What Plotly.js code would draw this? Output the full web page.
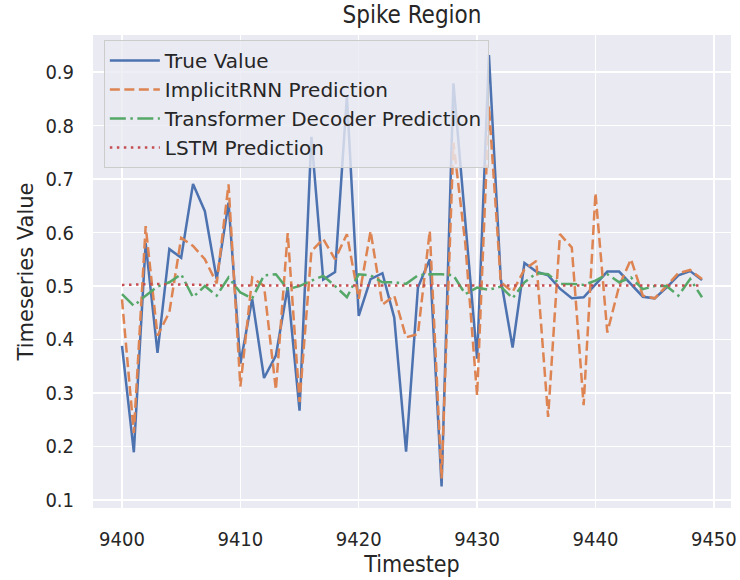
<!DOCTYPE html>
<html>
<head>
<meta charset="utf-8">
<script src="https://cdn.plot.ly/plotly-3.0.1.min.js"></script>
<style>html,body{margin:0;padding:0;background:#fff;}#chart{width:740px;height:580px;}</style>
</head>
<body>
<div id="chart"></div>
<script>
const timesteps = Array.from({length: 50}, (_, i) => 9400 + i);
const trueValue = [0.388, 0.189, 0.580, 0.375, 0.569, 0.553, 0.691, 0.640, 0.513, 0.656,
                   0.355, 0.476, 0.328, 0.370, 0.498, 0.267, 0.779, 0.512, 0.526, 0.855,
                   0.444, 0.513, 0.524, 0.441, 0.190, 0.497, 0.550, 0.125, 0.879, 0.620,
                   0.364, 0.932, 0.513, 0.385, 0.543, 0.527, 0.520, 0.495, 0.477, 0.479,
                   0.504, 0.527, 0.527, 0.504, 0.480, 0.477, 0.497, 0.520, 0.528, 0.511];
const implicitRNN = [0.475, 0.225, 0.612, 0.407, 0.451, 0.590, 0.575, 0.550, 0.505, 0.690,
                     0.312, 0.516, 0.500, 0.306, 0.599, 0.283, 0.565, 0.588, 0.550, 0.597,
                     0.476, 0.603, 0.465, 0.482, 0.404, 0.410, 0.603, 0.140, 0.768, 0.580,
                     0.295, 0.836, 0.507, 0.489, 0.531, 0.547, 0.255, 0.597, 0.572, 0.277,
                     0.674, 0.413, 0.500, 0.550, 0.482, 0.477, 0.500, 0.524, 0.530, 0.513];
const transformerDecoder = [0.485, 0.463, 0.482, 0.499, 0.507, 0.522, 0.479, 0.500, 0.482, 0.516,
                            0.488, 0.477, 0.520, 0.522, 0.494, 0.500, 0.510, 0.519, 0.500, 0.479,
                            0.522, 0.520, 0.507, 0.507, 0.504, 0.520, 0.522, 0.522, 0.520, 0.485,
                            0.497, 0.493, 0.499, 0.477, 0.507, 0.524, 0.522, 0.504, 0.504, 0.502,
                            0.510, 0.522, 0.507, 0.516, 0.494, 0.500, 0.500, 0.482, 0.513, 0.479];
const lstm = [0.502, 0.503, 0.504, 0.504, 0.503, 0.503, 0.502, 0.502, 0.501, 0.501,
              0.501, 0.500, 0.500, 0.500, 0.500, 0.500, 0.500, 0.500, 0.500, 0.500,
              0.500, 0.500, 0.500, 0.500, 0.500, 0.500, 0.500, 0.500, 0.500, 0.500,
              0.500, 0.500, 0.500, 0.500, 0.500, 0.500, 0.501, 0.501, 0.501, 0.501,
              0.501, 0.501, 0.501, 0.501, 0.501, 0.501, 0.501, 0.501, 0.501, 0.501];
const xTicks = [9400, 9410, 9420, 9430, 9440, 9450];
const yTicks = [0.1, 0.2, 0.3, 0.4, 0.5, 0.6, 0.7, 0.8, 0.9];

const cond = "'DejaVu Sans Condensed', 'DejaVu Sans', sans-serif";
const font = "'DejaVu Sans', sans-serif";
const txt = '#262626';
const traces = [
  {x: timesteps, y: trueValue, name: 'True Value', mode: 'lines', line: {color: '#4C72B0', width: 2.5, dash: 'solid'}},
  {x: timesteps, y: implicitRNN, name: 'ImplicitRNN Prediction', mode: 'lines', line: {color: '#DD8452', width: 2.5, dash: '10px,4.5px'}},
  {x: timesteps, y: transformerDecoder, name: 'Transformer Decoder Prediction', mode: 'lines', line: {color: '#55A868', width: 2.5, dash: '16px,4.5px,2.5px,4.5px'}},
  {x: timesteps, y: lstm, name: 'LSTM Prediction', mode: 'lines', line: {color: '#C44E52', width: 2.5, dash: '2.5px,4.5px'}}
];
const layout = {
  width: 740, height: 580,
  margin: {l: 93, r: 9, t: 35, b: 72},
  paper_bgcolor: '#ffffff',
  plot_bgcolor: '#EAEAF2',
  font: {family: cond, color: txt, size: 20},
  title: {text: 'Spike Region', font: {family: cond, size: 24, color: txt}, x: 0.5, xref: 'paper', xanchor: 'center', y: 0.974, yref: 'container', yanchor: 'middle'},
  xaxis: {
    range: [9397.55, 9451.45], tickvals: xTicks, ticktext: xTicks.map(String),
    showgrid: true, gridcolor: '#ffffff', gridwidth: 1.5, zeroline: false, showline: false,
    ticks: '', tickfont: {size: 20, family: cond}, ticklabelstandoff: 17,
    automargin: false,
    title: {text: 'Timestep', font: {size: 23, family: cond}, standoff: 2}
  },
  yaxis: {
    range: [0.0848, 0.9695], tickvals: yTicks, ticktext: yTicks.map(v => v.toFixed(1)),
    showgrid: true, gridcolor: '#ffffff', gridwidth: 1.5, zeroline: false, showline: false,
    ticks: '', tickfont: {size: 20, family: cond}, ticklabelstandoff: 18,
    automargin: false,
    title: {text: 'Timeseries Value', font: {size: 21, family: font}, standoff: 6}
  },
  legend: {
    x: 0.017, y: 0.9895, xanchor: 'left', yanchor: 'top',
    bgcolor: 'rgba(234,234,242,0.8)', bordercolor: '#cccccc', borderwidth: 1,
    font: {size: 20, family: font, color: txt},
    itemwidth: 50, tracegroupgap: 0
  },
  showlegend: true
};
Plotly.newPlot('chart', traces, layout, {displayModeBar: false, staticPlot: true});
</script>
</body>
</html>
